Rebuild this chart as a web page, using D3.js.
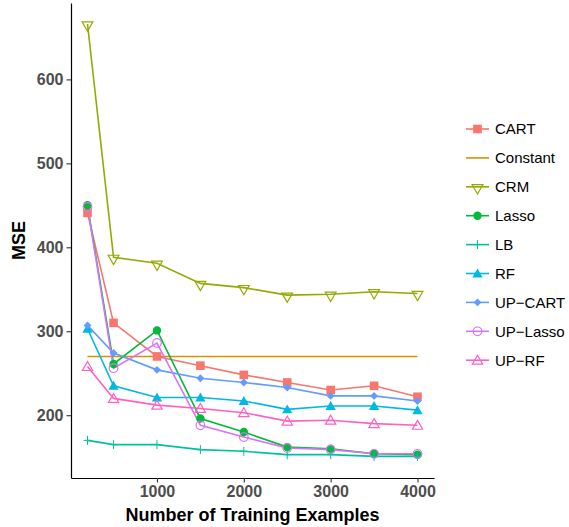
<!DOCTYPE html>
<html>
<head>
<meta charset="utf-8">
<script src="https://cdn.jsdelivr.net/npm/d3@7"></script>
<style>
  body { margin: 0; background: white; }
  svg { font-family: "Liberation Sans", Arial, Helvetica, sans-serif; }
</style>
</head>
<body>
<div id="chart"></div>
<script>
// training set sizes
const examples = [200, 500, 1000, 1500, 2000, 2500, 3000, 3500, 4000];

// MSE per method
const cart     = [441, 310, 270, 259, 248, 239, 230, 235, 222];
const constant = [270, 270, 270, 270, 270, 270, 270, 270, 270];
const crm      = [666, 388, 381, 357, 352, 343, 344, 347, 345];
const lasso    = [450, 261, 301, 196, 180, 162, 160, 154, 153];
const lb       = [170, 165, 165, 159, 157, 153, 153, 151, 151];
const rf       = [303, 235, 221, 221, 217, 207, 211, 211, 206];
const upCart   = [307, 274, 254, 244, 239, 233, 223, 223, 217];
const upLasso  = [448, 256, 286, 188, 174, 161, 159, 154, 154];
const upRf     = [258, 220, 212, 208, 203, 193, 194, 190, 188];

const methods = ["CART", "Constant", "CRM", "Lasso", "LB", "RF", "UP\u2212CART", "UP\u2212Lasso", "UP\u2212RF"];
const seriesValues = [cart, constant, crm, lasso, lb, rf, upCart, upLasso, upRf];
const colors = ["#F8766D", "#D39200", "#93AA00", "#00BA38", "#00C19F", "#00B9E3", "#619CFF", "#DB72FB", "#FF61C3"];
const shapes = ["square", "none", "triDown", "dot", "plus", "triFill", "diamond", "ring", "triOpen"];

const xTicks = [1000, 2000, 3000, 4000];
const yTicks = [200, 300, 400, 500, 600];

document.addEventListener("DOMContentLoaded", () => {
    const width = 569, height = 527;
    const margin = { top: 3, right: 135, bottom: 49, left: 71 };

    const svg = d3.select("#chart").append("svg")
        .attr("width", width)
        .attr("height", height);

    const x = d3.scaleLinear().domain([10, 4190]).range([margin.left, width - margin.right]);
    const y = d3.scaleLinear().domain([125.2, 691]).range([height - margin.bottom, margin.top]);

    const series = methods.map((m, i) => ({
        name: m,
        color: colors[i],
        shape: shapes[i],
        values: examples.map((e, j) => ({ x: e, y: seriesValues[i][j] }))
    }));

    // marker drawing, roughly like ggplot shapes
    function drawMarker(g, shape, color) {
        const tri = d3.symbol().type(d3.symbolTriangle);
        if (shape === "square") {
            g.append("rect").attr("x", -4.3).attr("y", -4.3).attr("width", 8.6).attr("height", 8.6).attr("fill", color);
        } else if (shape === "triDown") {
            g.append("path").attr("d", tri.size(50)()).attr("transform", "rotate(180) translate(0,-1)")
                .attr("fill", "none").attr("stroke", color).attr("stroke-width", 1.2);
        } else if (shape === "dot") {
            g.append("circle").attr("r", 4.2).attr("fill", color);
        } else if (shape === "plus") {
            g.append("path").attr("d", "M-4,0H4M0,-4.5V4.5").attr("stroke", color).attr("stroke-width", 1);
        } else if (shape === "triFill") {
            g.append("path").attr("d", tri.size(46)()).attr("transform", "translate(0,1)").attr("fill", color);
        } else if (shape === "diamond") {
            g.append("rect").attr("x", -2.8).attr("y", -2.8).attr("width", 5.6).attr("height", 5.6)
                .attr("transform", "rotate(45)").attr("fill", color);
        } else if (shape === "ring") {
            g.append("circle").attr("r", 4.3).attr("fill", "none").attr("stroke", color).attr("stroke-width", 1.2);
        } else if (shape === "triOpen") {
            g.append("path").attr("d", tri.size(46)()).attr("transform", "translate(0,1)")
                .attr("fill", "none").attr("stroke", color).attr("stroke-width", 1.2);
        }
    }

    const line = d3.line().x(d => x(d.x)).y(d => y(d.y));

    // lines first, then points
    svg.append("g").selectAll("path")
        .data(series)
        .enter().append("path")
        .attr("d", d => line(d.values))
        .attr("fill", "none")
        .attr("stroke", d => d.color)
        .attr("stroke-width", 1.6);

    series.forEach(s => {
        if (s.shape === "none") return;
        s.values.forEach(v => {
            const g = svg.append("g").attr("transform", `translate(${x(v.x)},${y(v.y)})`);
            drawMarker(g, s.shape, s.color);
        });
    });

    //START axes
    const xAxis = svg.append("g")
        .attr("transform", `translate(0,${height - margin.bottom})`)
        .call(d3.axisBottom(x).tickValues(xTicks).tickFormat(d3.format("d"))
            .tickSize(4.5).tickPadding(3).tickSizeOuter(0));
    const yAxis = svg.append("g")
        .attr("transform", `translate(${margin.left},0)`)
        .call(d3.axisLeft(y).tickValues(yTicks).tickFormat(d3.format("d"))
            .tickSize(4.5).tickPadding(3).tickSizeOuter(0));

    [xAxis, yAxis].forEach(a => {
        a.select(".domain").attr("stroke", "black").attr("stroke-width", 1.2);
        a.selectAll(".tick line").attr("stroke", "#333333").attr("stroke-width", 1.1);
        a.selectAll(".tick text")
            .attr("fill", "#4D4D4D")
            .style("font-size", "16px")
            .style("font-weight", "bold")
            .style("font-family", "'Liberation Sans', Arial, sans-serif");
    });
    //END axes

    svg.append("text")
        .attr("x", (margin.left + width - margin.right) / 2)
        .attr("y", 521)
        .attr("text-anchor", "middle")
        .style("font-size", "18px")
        .style("font-weight", "bold")
        .text("Number of Training Examples");

    svg.append("text")
        .attr("transform", `translate(25,${(margin.top + height - margin.bottom) / 2}) rotate(-90)`)
        .attr("text-anchor", "middle")
        .style("font-size", "18px")
        .style("font-weight", "bold")
        .text("MSE");

    //START legend
    const legend = svg.append("g").attr("transform", "translate(466,129)");
    series.forEach((s, i) => {
        const row = legend.append("g").attr("transform", `translate(0,${i * 28.9})`);
        row.append("line").attr("x1", 0).attr("x2", 23).attr("y1", 0).attr("y2", 0)
            .attr("stroke", s.color).attr("stroke-width", 1.6);
        const m = row.append("g").attr("transform", "translate(11.5,0)");
        drawMarker(m, s.shape, s.color);
        row.append("text")
            .attr("x", 29)
            .attr("y", 0)
            .attr("dy", "0.36em")
            .style("font-size", "15px")
            .text(s.name);
    });
    //END legend
});
</script>
</body>
</html>
